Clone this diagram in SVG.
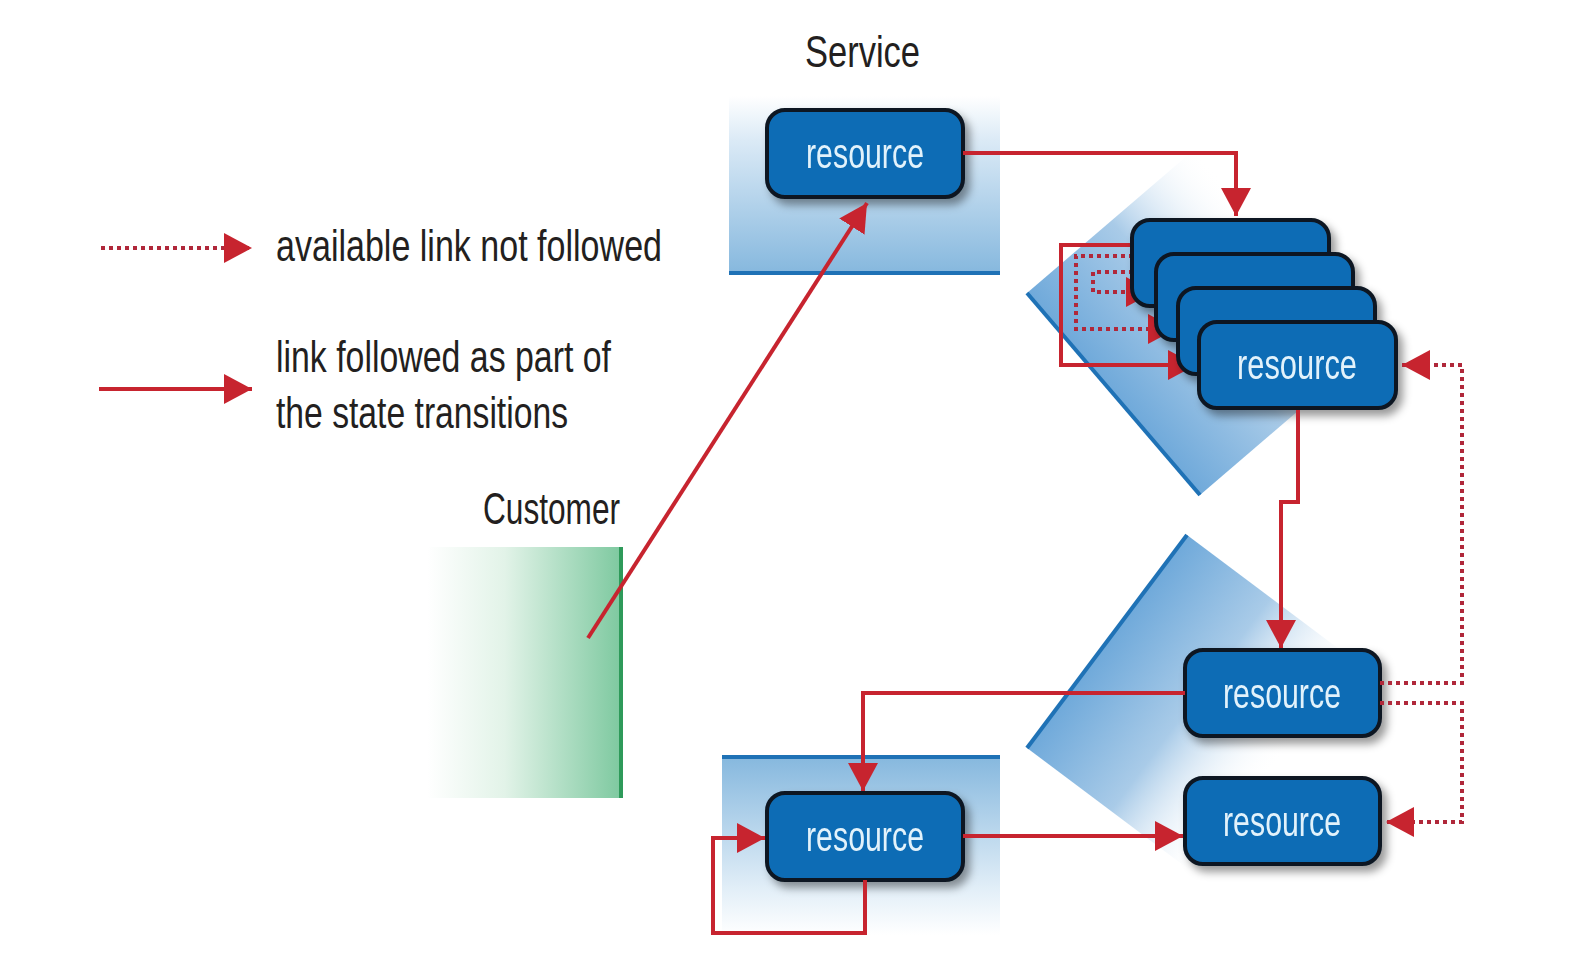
<svg xmlns="http://www.w3.org/2000/svg" width="1584" height="970" viewBox="0 0 1584 970">
<defs>
<style>
.lbl{font-family:"Liberation Sans","DejaVu Sans",sans-serif;font-size:44px;fill:#231f20}
.res{font-family:"Liberation Sans","DejaVu Sans",sans-serif;font-size:42px;fill:#e2f2fb;text-anchor:middle}
.node{fill:#0b6cb5;stroke:#0b1722;stroke-width:4}
.link{fill:none;stroke:#c7242f;stroke-width:4}
.dot{fill:none;stroke:#b0283a;stroke-width:4;stroke-dasharray:4 4}
</style>
<linearGradient id="gSvc" x1="0" y1="0" x2="0" y2="1">
<stop offset="0" stop-color="#ffffff"/>
<stop offset="0.25" stop-color="#dbeaf6"/>
<stop offset="1" stop-color="#86b8de"/>
</linearGradient>
<linearGradient id="gBot" x1="0" y1="0" x2="0" y2="1">
<stop offset="0" stop-color="#86b8de"/>
<stop offset="0.75" stop-color="#e3eff8"/>
<stop offset="1" stop-color="#ffffff"/>
</linearGradient>
<linearGradient id="gCus" x1="0" y1="0" x2="1" y2="0">
<stop offset="0" stop-color="#ffffff"/>
<stop offset="0.4" stop-color="#e2f3e8"/>
<stop offset="1" stop-color="#7ec9a0"/>
</linearGradient>
<linearGradient id="gD1" gradientUnits="userSpaceOnUse" x1="1113" y1="394" x2="1282" y2="250">
<stop offset="0" stop-color="#6fa9da"/>
<stop offset="0.5" stop-color="#a9cbe8"/>
<stop offset="1" stop-color="#ffffff" stop-opacity="0"/>
</linearGradient>
<linearGradient id="gD2" gradientUnits="userSpaceOnUse" x1="1107" y1="641" x2="1275" y2="767">
<stop offset="0" stop-color="#6fa9da"/>
<stop offset="0.5" stop-color="#a9cbe8"/>
<stop offset="1" stop-color="#ffffff" stop-opacity="0"/>
</linearGradient>
<filter id="sh" x="-20%" y="-20%" width="150%" height="160%">
<feDropShadow dx="5" dy="6" stdDeviation="4" flood-color="#000" flood-opacity="0.4"/>
</filter>
<marker id="ah" markerUnits="userSpaceOnUse" markerWidth="30" markerHeight="32" refX="28" refY="16" orient="auto">
<path d="M0,1 L28,16 L0,31 z" fill="#c7242f"/>
</marker>
</defs>
<rect width="1584" height="970" fill="#ffffff"/>

<g id="backgrounds">
<rect x="729" y="96" width="271" height="177" fill="url(#gSvc)"/>
<line x1="729" y1="273" x2="1000" y2="273" stroke="#1f72b6" stroke-width="4"/>
<rect x="722" y="757" width="278" height="178" fill="url(#gBot)"/>
<line x1="722" y1="757" x2="1000" y2="757" stroke="#1f72b6" stroke-width="4"/>
<rect x="427" y="547" width="194" height="251" fill="url(#gCus)"/>
<line x1="621" y1="547" x2="621" y2="798" stroke="#2e9a5a" stroke-width="4"/>
<polygon points="1027,293 1200,495 1382,339 1209,137" fill="url(#gD1)"/>
<line x1="1027" y1="293" x2="1200" y2="495" stroke="#1f72b6" stroke-width="4"/>
<polygon points="1027,748 1187,535 1379,679 1219,892" fill="url(#gD2)"/>
<line x1="1027" y1="748" x2="1187" y2="535" stroke="#1f72b6" stroke-width="4"/>
</g>

<g id="labels">
<text class="lbl" x="805" y="67" textLength="115" lengthAdjust="spacingAndGlyphs">Service</text>
<text class="lbl" x="483" y="524" textLength="137" lengthAdjust="spacingAndGlyphs">Customer</text>
<text class="lbl" x="276" y="261" textLength="386" lengthAdjust="spacingAndGlyphs">available link not followed</text>
<text class="lbl" x="276" y="372" textLength="335" lengthAdjust="spacingAndGlyphs">link followed as part of</text>
<text class="lbl" x="276" y="428" textLength="292" lengthAdjust="spacingAndGlyphs">the state transitions</text>
</g>

<g id="legend">
<line class="dot" x1="101" y1="248" x2="252" y2="248" marker-end="url(#ah)"/>
<line class="link" x1="99" y1="389" x2="252" y2="389" marker-end="url(#ah)"/>
</g>

<g id="connectors-back">
<path class="link" d="M1132,245 H1061 V365 H1196" marker-end="url(#ah)"/>
<path class="dot" d="M1133,256 H1076 V329 H1176" marker-end="url(#ah)"/>
<path class="dot" d="M1133,272 H1093 V292 H1154" marker-end="url(#ah)"/>
</g>

<g id="node-service" filter="url(#sh)">
<rect class="node" x="767" y="110" width="196" height="87" rx="18"/>
<text class="res" x="865" y="168" textLength="118" lengthAdjust="spacingAndGlyphs">resource</text>
</g>

<g id="node-stack" filter="url(#sh)">
<rect class="node" x="1132" y="220" width="197" height="86" rx="18"/>
<rect class="node" x="1156" y="254" width="197" height="86" rx="18"/>
<rect class="node" x="1178" y="288" width="197" height="86" rx="18"/>
<rect class="node" x="1199" y="322" width="197" height="86" rx="18"/>
<text class="res" x="1297" y="379" textLength="120" lengthAdjust="spacingAndGlyphs">resource</text>
</g>

<g id="node-middle" filter="url(#sh)">
<rect class="node" x="1185" y="650" width="195" height="86" rx="18"/>
<text class="res" x="1282" y="708" textLength="118" lengthAdjust="spacingAndGlyphs">resource</text>
</g>

<g id="node-bottom-right" filter="url(#sh)">
<rect class="node" x="1185" y="778" width="195" height="86" rx="18"/>
<text class="res" x="1282" y="836" textLength="118" lengthAdjust="spacingAndGlyphs">resource</text>
</g>

<g id="node-bottom-left" filter="url(#sh)">
<rect class="node" x="767" y="793" width="196" height="87" rx="18"/>
<text class="res" x="865" y="851" textLength="118" lengthAdjust="spacingAndGlyphs">resource</text>
</g>

<g id="connectors">
<line class="link" x1="588" y1="638" x2="867" y2="203" marker-end="url(#ah)"/>
<path class="link" d="M963,153 H1236 V216" marker-end="url(#ah)"/>
<path class="link" d="M1298,410 V502 H1281 V648" marker-end="url(#ah)"/>
<path class="link" d="M1185,693 H863 V791" marker-end="url(#ah)"/>
<path class="link" d="M963,836 H1183" marker-end="url(#ah)"/>
<path class="link" d="M865,880 V933 H713 V838 H765" marker-end="url(#ah)"/>
<path class="dot" d="M1380,683 H1462 V365 H1402" marker-end="url(#ah)"/>
<path class="dot" d="M1380,703 H1462 V822 H1386" marker-end="url(#ah)"/>
</g>
</svg>
